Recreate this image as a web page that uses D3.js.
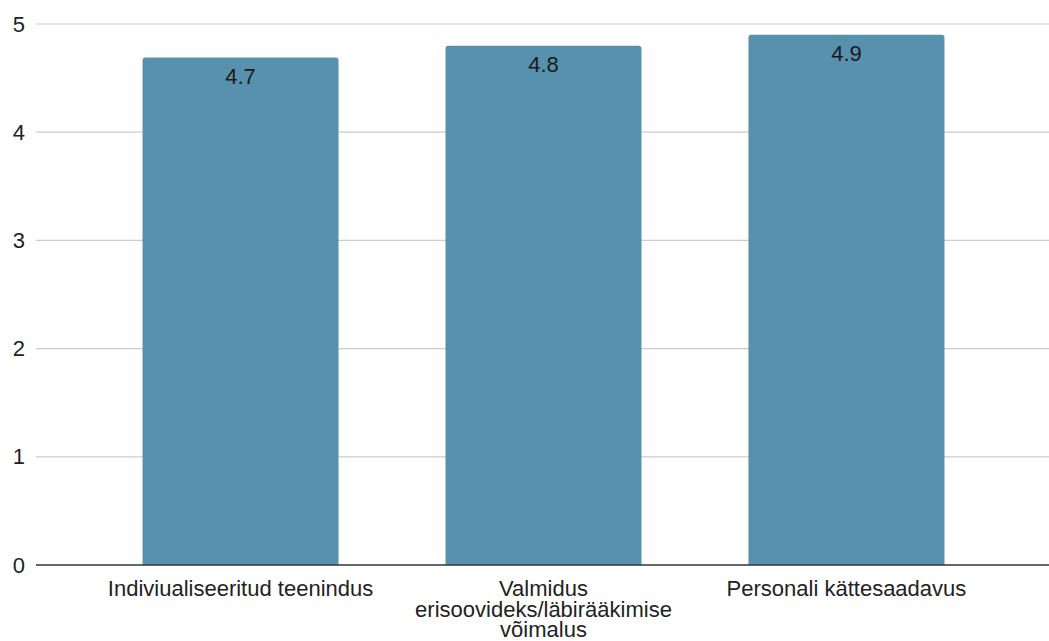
<!DOCTYPE html>
<html>
<head>
<meta charset="utf-8">
<script src="https://cdn.jsdelivr.net/npm/d3@7"></script>
<style>
  body { margin: 0; background: #fff; }
  text { font-family: "Liberation Sans", Arial, sans-serif; }
</style>
</head>
<body>
<div id="chart"></div>
<script>
// Data
const categories = [
    "Indiviualiseeritud teenindus",
    "Valmidus erisoovideks/läbirääkimise võimalus",
    "Personali kättesaadavus"
];
const values = [4.69, 4.8, 4.9];
const valueLabels = ["4.7", "4.8", "4.9"];
const yTicks = [0, 1, 2, 3, 4, 5];

const width = 1049;
const height = 641;
const plotLeft = 38, plotRight = 1049, plotTop = 24, plotBottom = 565;
const fontSize = 22;

const svg = d3.select("#chart")
    .append("svg")
    .attr("width", width)
    .attr("height", height);

const xScale = d3.scaleBand()
    .domain(categories)
    .range([plotLeft, plotRight])
    .paddingInner(0.353)
    .paddingOuter(0.345);

const yScale = d3.scaleLinear()
    .domain([0, 5])
    .range([plotBottom, plotTop]);

// gridlines
svg.append("g")
    .selectAll("line")
    .data(yTicks.filter(d => d !== 0))
    .join("line")
    .attr("x1", 36)
    .attr("x2", plotRight)
    .attr("y1", d => yScale(d))
    .attr("y2", d => yScale(d))
    .attr("stroke", "#cccccc")
    .attr("stroke-width", 1.2);

// y tick labels
svg.append("g")
    .selectAll("text")
    .data(yTicks)
    .join("text")
    .attr("x", 25)
    .attr("y", d => yScale(d) + 7.5)
    .attr("text-anchor", "end")
    .attr("font-size", fontSize)
    .attr("fill", "#222")
    .text(d => d);

// bars with rounded top corners
const r = 3;
function barPath(d, i) {
    const x = xScale(categories[i]);
    const w = xScale.bandwidth();
    const y = yScale(d);
    const y0 = yScale(0);
    return `M${x},${y0} L${x},${y + r} Q${x},${y} ${x + r},${y} L${x + w - r},${y} Q${x + w},${y} ${x + w},${y + r} L${x + w},${y0} Z`;
}

svg.selectAll(".bar")
    .data(values)
    .join("path")
    .attr("class", "bar")
    .attr("d", barPath)
    .attr("fill", "#5891ae");

// value labels
svg.selectAll(".value")
    .data(values)
    .join("text")
    .attr("class", "value")
    .attr("x", (d, i) => xScale(categories[i]) + xScale.bandwidth() / 2)
    .attr("y", d => yScale(d) + 26)
    .attr("text-anchor", "middle")
    .attr("font-size", fontSize)
    .attr("fill", "#1a1a1a")
    .text((d, i) => valueLabels[i]);

// baseline
svg.append("line")
    .attr("x1", 36)
    .attr("x2", plotRight)
    .attr("y1", yScale(0))
    .attr("y2", yScale(0))
    .attr("stroke", "#333")
    .attr("stroke-width", 1.5);

// category labels, wrapped
const xLabels = svg.selectAll(".cat")
    .data(categories)
    .join("text")
    .attr("class", "cat")
    .attr("x", d => xScale(d) + xScale.bandwidth() / 2)
    .attr("y", 596)
    .attr("text-anchor", "middle")
    .attr("font-size", fontSize)
    .attr("fill", "#222");

xLabels.each(function(d) {
    const el = d3.select(this);
    const cx = +el.attr("x");
    const words = d.split(" ");
    let line = [];
    let tspan = el.append("tspan").attr("x", cx).attr("dy", 0);
    words.forEach(w => {
        line.push(w);
        tspan.text(line.join(" "));
        if (tspan.node().getComputedTextLength() > 295 && line.length > 1) {
            line.pop();
            tspan.text(line.join(" "));
            line = [w];
            tspan = el.append("tspan").attr("x", cx).attr("dy", 20.5).text(w);
        }
    });
});
</script>
</body>
</html>
